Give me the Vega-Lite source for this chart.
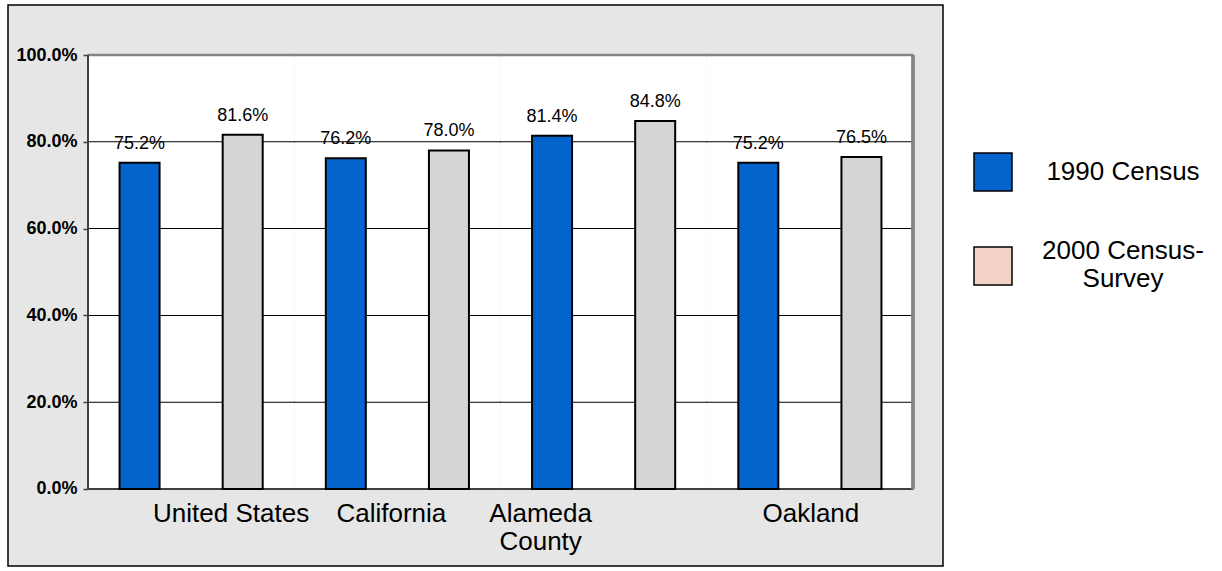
{
  "$schema": "https://vega.github.io/schema/vega-lite/v6.json",
  "width": 935,
  "height": 561,
  "autosize": {"type": "none"},
  "padding": {"left": 8, "top": 5, "right": 279, "bottom": 5},
  "background": "white",
  "view": {"fill": "#e6e6e6", "stroke": "#000000", "strokeWidth": 1.5},
  "config": {
    "font": "Liberation Sans",
    "axis": {"labelFont": "Liberation Sans", "labelColor": "#000000"},
    "legend": {"labelFont": "Liberation Sans"}
  },
  "data": {
    "values": [
      {"Region": "United States", "Census": "1990 Census", "Value": 75.2},
      {"Region": "United States", "Census": "2000 Census-Survey", "Value": 81.6},
      {"Region": "California", "Census": "1990 Census", "Value": 76.2},
      {"Region": "California", "Census": "2000 Census-Survey", "Value": 78.0},
      {"Region": "Alameda County", "Census": "1990 Census", "Value": 81.4},
      {"Region": "Alameda County", "Census": "2000 Census-Survey", "Value": 84.8},
      {"Region": "Oakland", "Census": "1990 Census", "Value": 75.2},
      {"Region": "Oakland", "Census": "2000 Census-Survey", "Value": 76.5}
    ]
  },
  "resolve": {"scale": {"fill": "independent"}},
  "layer": [
    {
      "transform": [{"aggregate": [{"op": "count", "as": "n"}], "groupby": ["Region"]}],
      "layer": [
        {
          "mark": {"type": "rect", "fill": "#ffffff", "strokeWidth": 0},
          "encoding": {
            "x": {"field": "Region", "type": "nominal", "title": null},
            "y": {"datum": 0, "type": "quantitative"},
            "y2": {"datum": 100}
          }
        },
        {
          "mark": {"type": "tick", "color": "#000000", "thickness": 1, "size": 207, "opacity": 1},
          "encoding": {
            "x": {"field": "Region", "type": "nominal", "title": null},
            "y": {"datum": 20, "type": "quantitative"}
          }
        },
        {
          "mark": {"type": "tick", "color": "#000000", "thickness": 1, "size": 207, "opacity": 1},
          "encoding": {
            "x": {"field": "Region", "type": "nominal", "title": null},
            "y": {"datum": 40, "type": "quantitative"}
          }
        },
        {
          "mark": {"type": "tick", "color": "#000000", "thickness": 1, "size": 207, "opacity": 1},
          "encoding": {
            "x": {"field": "Region", "type": "nominal", "title": null},
            "y": {"datum": 60, "type": "quantitative"}
          }
        },
        {
          "mark": {"type": "tick", "color": "#000000", "thickness": 1, "size": 207, "opacity": 1},
          "encoding": {
            "x": {"field": "Region", "type": "nominal", "title": null},
            "y": {"datum": 80, "type": "quantitative"}
          }
        },
        {
          "mark": {"type": "tick", "color": "#858585", "thickness": 2.5, "size": 207, "opacity": 1},
          "encoding": {
            "x": {"field": "Region", "type": "nominal", "title": null},
            "y": {"datum": 100, "type": "quantitative"}
          }
        },
        {
          "mark": {"type": "tick", "color": "#404040", "thickness": 2, "size": 207, "opacity": 1},
          "encoding": {
            "x": {"field": "Region", "type": "nominal", "title": null},
            "y": {"datum": 0, "type": "quantitative"}
          }
        }
      ]
    },
    {
      "mark": {"type": "rule", "color": "#404040", "strokeWidth": 2},
      "encoding": {
        "x": {"datum": "United States", "type": "nominal", "bandPosition": 0},
        "y": {"datum": 0, "type": "quantitative"},
        "y2": {"datum": 100}
      }
    },
    {
      "mark": {"type": "rule", "color": "#858585", "strokeWidth": 2.5},
      "encoding": {
        "x": {"datum": "Oakland", "type": "nominal", "bandPosition": 1},
        "y": {"datum": 0, "type": "quantitative"},
        "y2": {"datum": 100}
      }
    },
    {
      "mark": {"type": "bar", "stroke": "#000000", "strokeWidth": 2},
      "encoding": {
        "x": {
          "field": "Region",
          "type": "nominal",
          "title": null,
          "scale": {
            "domain": ["United States", "California", "Alameda County", "Oakland"],
            "paddingInner": 0,
            "paddingOuter": 0.26667,
            "align": 0.72727
          },
          "axis": {
            "orient": "bottom",
            "offset": -77,
            "title": null,
            "domain": false,
            "ticks": false,
            "grid": false,
            "labelAngle": 0,
            "labelAlign": "center",
            "labelBaseline": "top",
            "labelFontSize": 26,
            "labelPadding": 11,
            "labelLineHeight": 28,
            "labelLimit": 300,
            "labelOffset": {"expr": "datum.value == 'United States' ? 40 : datum.value == 'California' ? -6 : datum.value == 'Alameda County' ? -63 : 1"},
            "labelExpr": "datum.label == 'Alameda County' ? ['Alameda', 'County'] : datum.label",
            "zindex": 1
          }
        },
        "xOffset": {
          "field": "Census",
          "type": "nominal",
          "scale": {"paddingInner": 0.612, "paddingOuter": 0.306}
        },
        "y": {
          "field": "Value",
          "type": "quantitative",
          "title": null,
          "scale": {"domain": [-17.742, 111.521], "nice": false, "zero": false},
          "axis": {
            "title": null,
            "offset": -80,
            "values": [0, 20, 40, 60, 80, 100],
            "labelExpr": "format(datum.value, '.1f') + '%'",
            "domain": false,
            "grid": false,
            "tickSize": 5,
            "tickColor": "#404040",
            "tickWidth": 1.5,
            "labelFontSize": 18,
            "labelFontWeight": "bold",
            "labelPadding": 6,
            "zindex": 1
          }
        },
        "y2": {"datum": 0},
        "fill": {
          "field": "Census",
          "type": "nominal",
          "scale": {"domain": ["1990 Census", "2000 Census-Survey"], "range": ["#0563cc", "#d5d5d5"]},
          "legend": null
        }
      }
    },
    {
      "transform": [{"calculate": "format(datum.Value, '.1f') + '%'", "as": "Label"}],
      "mark": {"type": "text", "fontSize": 18, "color": "#000000", "baseline": "alphabetic", "dy": -14},
      "encoding": {
        "x": {"field": "Region", "type": "nominal", "title": null},
        "xOffset": {"field": "Census", "type": "nominal"},
        "y": {"field": "Value", "type": "quantitative", "title": null},
        "text": {"field": "Label"}
      }
    },
    {
      "mark": {"type": "point", "shape": "square", "filled": true, "opacity": 0},
      "encoding": {
        "x": {"field": "Region", "type": "nominal", "title": null},
        "xOffset": {"field": "Census", "type": "nominal"},
        "y": {"field": "Value", "type": "quantitative", "title": null},
        "fill": {
          "field": "Census",
          "type": "nominal",
          "scale": {"domain": ["1990 Census", "2000 Census-Survey"], "range": ["#0563cc", "#f2d3c6"]},
          "legend": {
            "title": null,
            "orient": "none",
            "legendX": 965,
            "legendY": 147,
            "padding": 0,
            "symbolType": "square",
            "symbolSize": 1444,
            "symbolOpacity": 1,
            "symbolStrokeColor": "#000000",
            "symbolStrokeWidth": 1.5,
            "labelFontSize": 26,
            "labelColor": "#000000",
            "labelAlign": "center",
            "labelBaseline": "middle",
            "labelOffset": 110,
            "labelLimit": 400,
            "labelLineHeight": 28,
            "rowPadding": 44,
            "labelExpr": "datum.label == '2000 Census-Survey' ? ['2000 Census-', 'Survey'] : datum.label",
            "encode": {
              "labels": {
                "update": {
                  "dy": {"signal": "datum.value == '2000 Census-Survey' ? -15 : 0"}
                }
              }
            }
          }
        }
      }
    }
  ]
}
